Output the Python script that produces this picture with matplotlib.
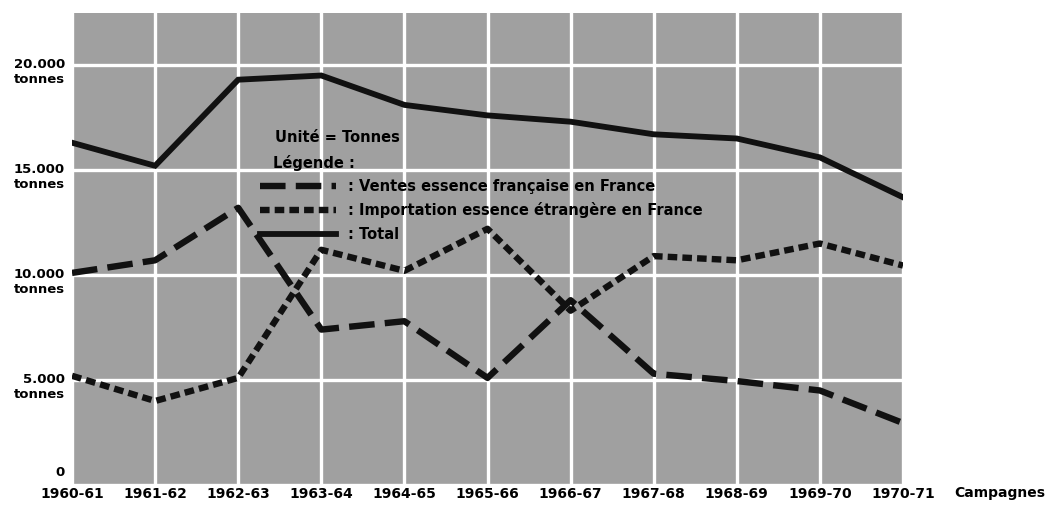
import matplotlib
matplotlib.use("Agg")
import matplotlib.pyplot as plt
from matplotlib.lines import Line2D
from matplotlib.transforms import offset_copy, blended_transform_factory

campagnes = ["1960-61", "1961-62", "1962-63", "1963-64", "1964-65", "1965-66",
             "1966-67", "1967-68", "1968-69", "1969-70", "1970-71"]
ventes = [10100, 10700, 13200, 7400, 7800, 5100, 8800, 5300, 4950, 4500, 2950]
importation = [5200, 4000, 5100, 11200, 10200, 12200, 8300, 10900, 10700, 11500, 10450]
total = [16300, 15200, 19300, 19500, 18100, 17600, 17300, 16700, 16500, 15600, 13700]
ytick_values = [0, 5000, 10000, 15000, 20000]
ytick_labels = ["0", "5.000\ntonnes", "10.000\ntonnes", "15.000\ntonnes", "20.000\ntonnes"]

plt.rcParams['font.family'] = ['DejaVu Sans']
plt.rcParams['font.weight'] = 'bold'

fig = plt.figure(figsize=(10.5, 5.09), dpi=100)
ax = fig.add_axes([72/1050, 1 - 485/509, 831/1050, 472.5/509])
ax.set_facecolor("#a0a0a0")
for s in ax.spines.values():
    s.set_visible(False)

x = list(range(len(campagnes)))
ax.set_xlim(0, len(campagnes) - 1)
ax.set_ylim(0, 22500)

ax.set_xticks(x)
ax.set_xticklabels(campagnes, fontsize=10, fontweight='bold')
ax.tick_params(axis='x', length=0, pad=1.5)
ax.set_yticks(ytick_values)
ax.set_yticklabels([])
ax.tick_params(axis='y', length=0)
ax.grid(True, color="white", linewidth=2.4)
ax.set_axisbelow(True)

col = "#111111"
l1, = ax.plot(x, ventes, color=col, linewidth=4.6, dashes=(4.0, 1.6),
              solid_capstyle='butt', dash_capstyle='butt')
l2, = ax.plot(x, importation, color=col, linewidth=4.6, dashes=(1.5, 0.8),
              dash_capstyle='butt')
l3, = ax.plot(x, total, color=col, linewidth=4.2, solid_joinstyle='miter')

# y labels
trans = blended_transform_factory(ax.transAxes, ax.transData)
for v, lab in zip(ytick_values, ytick_labels):
    off = -12 if v == 0 else 7
    t = offset_copy(trans, fig=fig, x=-7, y=-off, units='dots')
    ax.text(0, v, lab, transform=t, ha='right', va='center', fontsize=9.5,
            fontweight='bold', multialignment='right', linespacing=1.15)

ax.text(1.117, -8/472.5, "Campagnes", transform=ax.transAxes, ha='center',
        va='center', fontsize=10, fontweight='bold')

ax.text(0.244, 0.7365, "Unité = Tonnes", transform=ax.transAxes, ha='left',
        va='center', fontsize=10.5, fontweight='bold')
ax.text(0.242, 0.6815, "Légende :", transform=ax.transAxes, ha='left',
        va='center', fontsize=10.5, fontweight='bold')

handles = [Line2D([], [], color=col, linewidth=4.6, dashes=(4.0, 1.6)),
           Line2D([], [], color=col, linewidth=4.6, dashes=(1.5, 0.8)),
           Line2D([], [], color=col, linewidth=4.2)]
labels = [": Ventes essence française en France",
          ": Importation essence étrangère en France",
          ": Total"]
leg = ax.legend(handles, labels, loc='upper left', bbox_to_anchor=(0.226, 0.6476),
                frameon=False, fontsize=10.5, handlelength=5.25, handletextpad=0.8,
                borderpad=0, borderaxespad=0, labelspacing=0.58)
for t in leg.get_texts():
    t.set_fontweight('bold')

fig.savefig("out.png", dpi=100, facecolor="white")
